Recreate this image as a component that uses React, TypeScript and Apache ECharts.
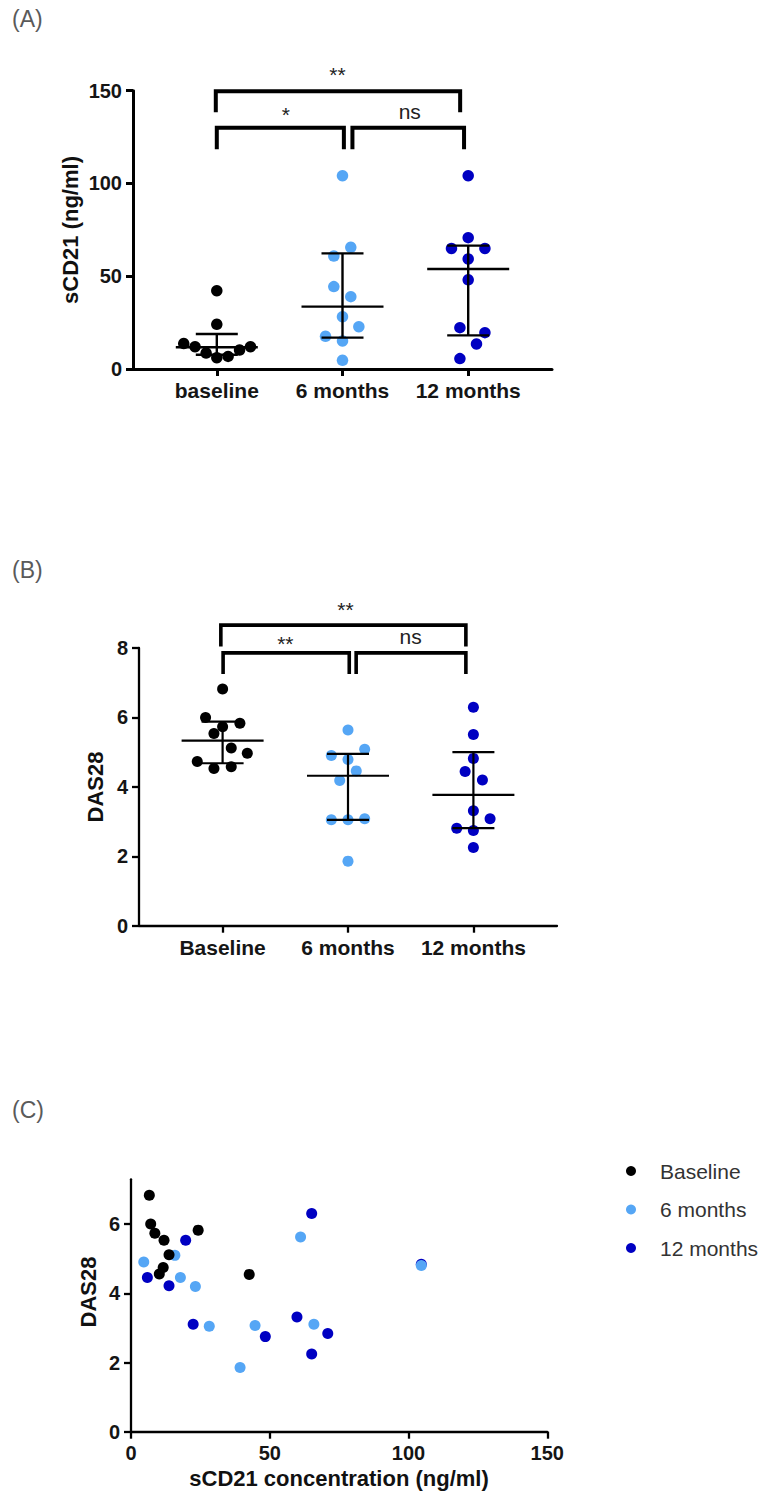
import React, { useEffect, useRef } from "react";
import * as echarts from "echarts";

// ---------- data ----------
const groupsA = ["baseline", "6 months", "12 months"];
const groupsB = ["Baseline", "6 months", "12 months"];
const legendNames = ["Baseline", "6 months", "12 months"];

// Panel A: sCD21 (ng/ml)
const sCD21Baseline = [42.2, 24.1, 13.7, 12.0, 8.6, 6.1, 6.8, 10.2, 12.0];
const sCD21BaselineJitter = [0, 0, -0.263, -0.173, -0.085, 0, 0.09, 0.181, 0.268];
const sCD21Month6 = [104.2, 65.6, 60.9, 44.4, 39.0, 28.2, 22.8, 17.6, 15.1, 4.7];
const sCD21Month6Jitter = [0, 0.066, -0.069, -0.069, 0.066, 0, 0.13, -0.135, 0, 0];
const sCD21Month12 = [104.2, 70.8, 65.0, 65.0, 59.3, 48.1, 22.3, 19.6, 13.5, 5.6];
const sCD21Month12Jitter = [0, 0, -0.133, 0.133, 0, 0, -0.066, 0.133, 0.066, -0.066];
const sCD21Median = [11.7, 33.6, 53.9];
const sCD21Q1 = [7.7, 16.9, 18.1];
const sCD21Q3 = [18.9, 62.3, 66.5];

// Panel B: DAS28
const dasBaseline = [6.82, 6.0, 5.83, 5.73, 5.54, 5.12, 4.97, 4.73, 4.53, 4.58];
const dasBaselineJitter = [0, -0.136, 0.138, 0, -0.069, 0.069, 0.197, -0.202, -0.069, 0.069];
const dasMonth6 = [5.64, 5.08, 4.9, 4.79, 4.46, 4.18, 3.05, 3.05, 3.08, 1.86];
const dasMonth6Jitter = [0, 0.133, -0.133, 0, 0.066, -0.066, -0.133, 0, 0.133, 0];
const dasMonth12 = [6.29, 5.51, 4.82, 4.44, 4.2, 3.31, 3.08, 2.81, 2.74, 2.25];
const dasMonth12Jitter = [0, 0, 0, -0.066, 0.072, 0, 0.133, -0.133, 0, 0];
const dasMedian = [5.33, 4.32, 3.77];
const dasQ1 = [4.68, 3.05, 2.81];
const dasQ3 = [5.88, 4.95, 5.0];

// Panel C: sCD21 vs DAS28
const corrBaselineX = [6.6, 7.1, 8.6, 11.9, 13.7, 10.2, 11.6, 24.2, 42.6];
const corrBaselineY = [6.84, 6.01, 5.74, 5.54, 5.12, 4.56, 4.75, 5.83, 4.55];
const corrMonth6X = [4.6, 15.8, 17.8, 23.2, 28.2, 44.7, 39.3, 61.1, 65.9, 104.6];
const corrMonth6Y = [4.91, 5.1, 4.46, 4.2, 3.05, 3.07, 1.86, 5.63, 3.11, 4.81];
const corrMonth12X = [5.9, 13.7, 19.7, 22.4, 48.4, 59.8, 65.1, 65.1, 70.9, 104.6];
const corrMonth12Y = [4.46, 4.22, 5.54, 3.11, 2.75, 3.32, 6.31, 2.25, 2.84, 4.84];

const ticksA = [0, 50, 100, 150];
const ticksB = [0, 2, 4, 6, 8];
const ticksCX = [0, 50, 100, 150];
const ticksCY = [0, 2, 4, 6];

// ---------- styling ----------
const BLACK = "#000000";
const LIGHT = "#55A6F5";
const DARK = "#0000C2";
const FONT = '"Liberation Sans", Arial, Helvetica, sans-serif';
const TICK_COLOR = "#151515";

function pts(vals: number[], jitter: number[], cat: number) {
  return vals.map((v, i) => [cat + jitter[i], v]);
}

function errorSeries(idx: number, med: number[], q1: number[], q3: number[], lw: number) {
  return {
    type: "custom",
    xAxisIndex: idx,
    yAxisIndex: idx,
    z: 5,
    silent: true,
    data: med.map((m, i) => [i, m, q1[i], q3[i]]),
    renderItem: (params: any, api: any) => {
      const c = api.coord([api.value(0), api.value(1)]);
      const lo = api.coord([api.value(0), api.value(2)]);
      const hi = api.coord([api.value(0), api.value(3)]);
      const style = { stroke: "#000", lineWidth: lw, fill: null };
      return {
        type: "group",
        children: [
          { type: "line", shape: { x1: c[0] - 41, y1: c[1], x2: c[0] + 41, y2: c[1] }, style },
          { type: "line", shape: { x1: lo[0], y1: lo[1], x2: hi[0], y2: hi[1] }, style },
          { type: "line", shape: { x1: lo[0] - 21, y1: lo[1], x2: lo[0] + 21, y2: lo[1] }, style },
          { type: "line", shape: { x1: hi[0] - 21, y1: hi[1], x2: hi[0] + 21, y2: hi[1] }, style },
        ],
      };
    },
  };
}

type Bracket = { x1: number; x2: number; y: number; drop: number; tx: number; ty: number; text: string };

function bracketSeries(idx: number, br: Bracket[], lw: number) {
  return {
    type: "custom",
    xAxisIndex: idx,
    yAxisIndex: idx,
    z: 6,
    silent: true,
    clip: false,
    data: br.map((b) => [b.x1, b.y]),
    renderItem: (params: any, api: any) => {
      const b = br[params.dataIndex];
      const p1 = api.coord([b.x1, b.drop]);
      const p2 = api.coord([b.x1, b.y]);
      const p3 = api.coord([b.x2, b.y]);
      const p4 = api.coord([b.x2, b.drop]);
      const t = api.coord([b.tx, b.ty]);
      const isStar = b.text.indexOf("*") >= 0;
      return {
        type: "group",
        children: [
          {
            type: "polyline",
            shape: { points: [p1, p2, p3, p4] },
            style: { stroke: "#000", lineWidth: lw, fill: null, lineJoin: "miter", lineCap: "butt" },
          },
          {
            type: "text",
            x: t[0],
            y: t[1] + (isStar ? 2 : -2),
            style: {
              text: b.text,
              font: `21px ${FONT}`,
              fill: "#222",
              align: "center",
              verticalAlign: "middle",
              textAlign: "center",
              textVerticalAlign: "middle",
            },
          },
        ],
      };
    },
  };
}

function catXAxis(idx: number, names: string[], lw: number) {
  return {
    type: "value",
    gridIndex: idx,
    min: -2 / 3,
    max: 8 / 3,
    splitLine: { show: false },
    axisLine: { show: true, onZero: false, lineStyle: { color: "#000", width: lw } },
    axisTick: { show: true, customValues: [0, 1, 2], length: 7, lineStyle: { color: "#000", width: lw } },
    axisLabel: {
      customValues: [0, 1, 2],
      formatter: (v: number) => names[Math.round(v)] ?? "",
      fontSize: 21,
      fontWeight: "bold",
      fontFamily: FONT,
      color: TICK_COLOR,
      margin: 11,
    },
  };
}

function valYAxis(idx: number, min: number, max: number, ticks: number[], lw: number) {
  return {
    type: "value",
    gridIndex: idx,
    min,
    max,
    splitLine: { show: false },
    axisLine: { show: true, onZero: false, lineStyle: { color: "#000", width: lw } },
    axisTick: { show: true, customValues: ticks, length: 7, lineStyle: { color: "#000", width: lw } },
    axisLabel: {
      customValues: ticks,
      fontSize: 20,
      fontWeight: "bold",
      fontFamily: FONT,
      color: TICK_COLOR,
      margin: 11,
    },
  };
}

function scatter(idx: number, name: string, data: number[][], color: string, size: number, z = 3) {
  return {
    type: "scatter",
    name,
    xAxisIndex: idx,
    yAxisIndex: idx,
    data,
    symbol: "circle",
    symbolSize: size,
    itemStyle: { color, opacity: 1 },
    z,
    silent: true,
  };
}

function titleText(x: number, y: number, text: string, size: number) {
  return {
    type: "text",
    x,
    y,
    rotation: Math.PI / 2,
    style: {
      text,
      font: `bold ${size}px ${FONT}`,
      fill: "#111",
      align: "center",
      verticalAlign: "middle",
      textAlign: "center",
      textVerticalAlign: "middle",
    },
  };
}

function panelLetter(y: number, text: string) {
  return {
    type: "text",
    x: 12,
    y,
    style: {
      text,
      font: `23px ${FONT}`,
      fill: "#5a5a5a",
      align: "left",
      verticalAlign: "middle",
      textAlign: "left",
      textVerticalAlign: "middle",
    },
  };
}

export default function App() {
  const ref = useRef<HTMLDivElement>(null);

  useEffect(() => {
    document.body.style.margin = "0";
    if (!ref.current) return;
    const chart = echarts.init(ref.current, undefined, { renderer: "svg" });

    const bracketsA: Bracket[] = [
      { x1: -0.008, x2: 1.936, y: 149.7, drop: 138.4, tx: 0.96, ty: 160, text: "**" },
      { x1: 0.0, x2: 1.011, y: 130.0, drop: 118.4, tx: 0.55, ty: 138.2, text: "*" },
      { x1: 1.079, x2: 1.967, y: 130.0, drop: 118.4, tx: 1.535, ty: 137.8, text: "ns" },
    ];
    const bracketsB: Bracket[] = [
      { x1: -0.014, x2: 1.94, y: 8.66, drop: 8.04, tx: 0.98, ty: 9.18, text: "**" },
      { x1: 0.004, x2: 1.01, y: 7.86, drop: 7.25, tx: 0.5, ty: 8.18, text: "**" },
      { x1: 1.065, x2: 1.94, y: 7.86, drop: 7.25, tx: 1.5, ty: 8.26, text: "ns" },
    ];

    chart.setOption({
      animation: false,
      backgroundColor: "#ffffff",
      grid: [
        { left: 133, top: 90.7, width: 419, height: 278.3, outerBoundsMode: "none", containLabel: false },
        { left: 139, top: 648, width: 418, height: 277.7, outerBoundsMode: "none", containLabel: false },
        { left: 131, top: 1179.3, width: 416.3, height: 252.4, outerBoundsMode: "none", containLabel: false },
      ],
      xAxis: [
        catXAxis(0, groupsA, 3),
        catXAxis(1, groupsB, 2.3),
        {
          type: "value",
          gridIndex: 2,
          min: 0,
          max: 150,
          interval: 50,
          splitLine: { show: false },
          axisLine: { show: true, onZero: false, lineStyle: { color: "#000", width: 2.3 } },
          axisTick: { show: true, customValues: ticksCX, length: 7, lineStyle: { color: "#000", width: 2.3 } },
          axisLabel: {
            customValues: ticksCX,
            fontSize: 20,
            fontWeight: "bold",
            fontFamily: FONT,
            color: TICK_COLOR,
            margin: 11,
          },
        },
      ],
      yAxis: [
        valYAxis(0, 0, 150, ticksA, 3),
        valYAxis(1, 0, 8, ticksB, 2.3),
        valYAxis(2, 0, 7.3, ticksCY, 2.3),
      ],
      legend: {
        data: legendNames,
        orient: "vertical",
        left: 621,
        top: 1154,
        icon: "circle",
        itemWidth: 10,
        itemHeight: 10,
        itemGap: 14.5,
        selectedMode: false,
        textStyle: {
          fontSize: 21,
          fontFamily: FONT,
          color: "#333",
          lineHeight: 24,
          padding: [0, 0, 0, 19],
        },
      },
      graphic: [
        panelLetter(19, "(A)"),
        panelLetter(570, "(B)"),
        panelLetter(1110, "(C)"),
        titleText(70, 230, "sCD21 (ng/ml)", 22),
        titleText(95, 787, "DAS28", 22),
        titleText(88, 1292, "DAS28", 22),
        {
          type: "text",
          x: 339,
          y: 1478,
          style: {
            text: "sCD21 concentration (ng/ml)",
            font: `bold 22px ${FONT}`,
            fill: "#111",
            align: "center",
            verticalAlign: "middle",
            textAlign: "center",
            textVerticalAlign: "middle",
          },
        },
      ],
      series: [
        // Panel A
        scatter(0, "a-baseline", pts(sCD21Baseline, sCD21BaselineJitter, 0), BLACK, 11.5),
        scatter(0, "a-6", pts(sCD21Month6, sCD21Month6Jitter, 1), LIGHT, 11.5),
        scatter(0, "a-12", pts(sCD21Month12, sCD21Month12Jitter, 2), DARK, 11.5),
        errorSeries(0, sCD21Median, sCD21Q1, sCD21Q3, 2.4),
        bracketSeries(0, bracketsA, 4),
        // Panel B
        scatter(1, "b-baseline", pts(dasBaseline, dasBaselineJitter, 0), BLACK, 11),
        scatter(1, "b-6", pts(dasMonth6, dasMonth6Jitter, 1), LIGHT, 11),
        scatter(1, "b-12", pts(dasMonth12, dasMonth12Jitter, 2), DARK, 11),
        errorSeries(1, dasMedian, dasQ1, dasQ3, 2.2),
        bracketSeries(1, bracketsB, 3.6),
        // Panel C
        scatter(2, "12 months", corrMonth12X.map((x, i) => [x, corrMonth12Y[i]]), DARK, 11, 2),
        scatter(2, "6 months", corrMonth6X.map((x, i) => [x, corrMonth6Y[i]]), LIGHT, 11, 3),
        scatter(2, "Baseline", corrBaselineX.map((x, i) => [x, corrBaselineY[i]]), BLACK, 11, 4),
      ],
    });

    return () => {
      chart.dispose();
    };
  }, []);

  return <div ref={ref} style={{ width: 765, height: 1501 }} />;
}
